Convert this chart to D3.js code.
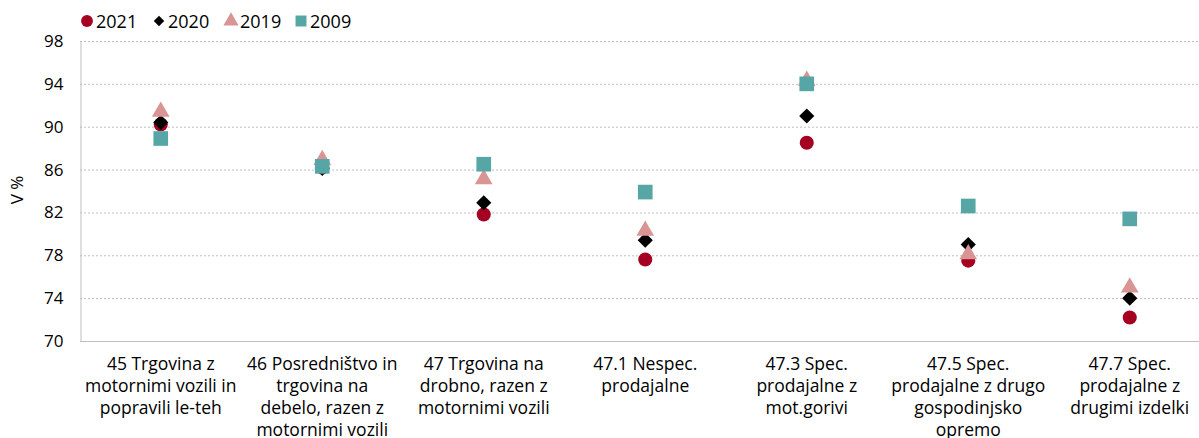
<!DOCTYPE html>
<html>
<head>
<meta charset="utf-8">
<script src="https://d3js.org/d3.v7.min.js"></script>
<style>
  body { margin: 0; background: #fff; }
  svg text { font-family: "Open Sans", sans-serif; fill: #000; }
  .grid line { stroke: #bfbfbf; stroke-dasharray: 2,2; }
  .axis path, .axis line { stroke: #bfbfbf; }
</style>
</head>
<body>
<div id="chart"></div>
<script>
// categories, one entry per label line
var categories = [
  ["45 Trgovina z", "motornimi vozili in", "popravili le-teh"],
  ["46 Posredništvo in", "trgovina na", "debelo, razen z", "motornimi vozili"],
  ["47 Trgovina na", "drobno, razen z", "motornimi vozili"],
  ["47.1 Nespec.", "prodajalne"],
  ["47.3 Spec.", "prodajalne z", "mot.gorivi"],
  ["47.5 Spec.", "prodajalne z drugo", "gospodinjsko", "opremo"],
  ["47.7 Spec.", "prodajalne z", "drugimi izdelki"]
];
var v2021 = [90.2, 86.2, 81.8, 77.6, 88.5, 77.5, 72.2];
var v2020 = [90.4, 86.1, 82.9, 79.4, 91.0, 79.0, 74.0];
var v2019 = [91.4, 86.9, 85.1, 80.3, 94.3, 78.1, 75.0];
var v2009 = [88.9, 86.3, 86.5, 83.9, 94.0, 82.6, 81.4];
var yTicks = [70, 74, 78, 82, 86, 90, 94, 98];

var series = [
  {name: "2021", values: v2021, shape: d3.symbolCircle, size: 155, color: "#a50021"},
  {name: "2020", values: v2020, shape: d3.symbolSquare, size: 115, rot: 45, color: "#000000"},
  {name: "2019", values: v2019, shape: d3.symbolTriangle, size: 135, color: "#d99594"},
  {name: "2009", values: v2009, shape: d3.symbolSquare, size: 215, color: "#56a6a6"}
];

var width = 1199, height = 438;
var margin = {top: 41, left: 80, bottom: 97};
var svg = d3.select("#chart").append("svg")
    .attr("width", width)
    .attr("height", height);

var x = d3.scaleBand()
    .domain(d3.range(categories.length))
    .range([margin.left, margin.left + 7 * 161.5]);
var y = d3.scaleLinear()
    .domain([70, 98])
    .range([height - margin.bottom, margin.top]);

// gridlines
svg.append("g")
    .attr("class", "grid")
    .selectAll("line")
    .data(yTicks.slice(1))
    .enter().append("line")
    .attr("x1", margin.left)
    .attr("x2", width)
    .attr("y1", function(d) { return y(d) + 0.5; })
    .attr("y2", function(d) { return y(d) + 0.5; });

// y axis
var yAxis = svg.append("g")
    .attr("class", "axis")
    .attr("transform", "translate(" + (margin.left + 0.5) + ",0)")
    .call(d3.axisLeft(y).tickValues(yTicks).tickSize(0).tickPadding(17));
yAxis.selectAll("text").style("font-size", "17px");

// x axis line
svg.append("g")
    .attr("class", "axis")
    .attr("transform", "translate(0," + (y(70) + 0.5) + ")")
    .call(d3.axisBottom(x).tickSize(0).tickFormat(""))
    .select("path").attr("d", "M" + margin.left + ",0H" + width);

// category labels
svg.append("g").selectAll("text")
    .data(categories)
    .enter().append("text")
    .attr("text-anchor", "middle")
    .style("font-size", "17.5px")
    .each(function(lines, i) {
      d3.select(this).selectAll("tspan")
        .data(lines)
        .enter().append("tspan")
        .attr("x", x(i) + x.bandwidth() / 2)
        .attr("y", function(d, j) { return 370 + j * 22; })
        .text(function(d) { return d; });
    });

// y title
svg.append("text")
    .attr("transform", "translate(23,190) rotate(-90)")
    .attr("text-anchor", "middle")
    .style("font-size", "17px")
    .text("V %");

// markers
series.forEach(function(s) {
  svg.append("g").selectAll("path")
    .data(s.values)
    .enter().append("path")
    .attr("d", d3.symbol().type(s.shape).size(s.size))
    .attr("fill", s.color)
    .attr("transform", function(d, i) {
      return "translate(" + (x(i) + x.bandwidth() / 2) + "," + y(d) + ")" +
        (s.rot ? " rotate(" + s.rot + ")" : "");
    });
});

// legend
var lx = [87, 159, 231, 301];
var legend = svg.append("g").selectAll("g")
    .data(series)
    .enter().append("g")
    .attr("transform", function(d, i) { return "translate(" + lx[i] + ",21)"; });
legend.append("path")
    .attr("d", function(d, i) {
      return d3.symbol().type(d.shape).size([110, 55, 100, 120][i])();
    })
    .attr("transform", function(d) { return d.rot ? "rotate(" + d.rot + ")" : null; })
    .attr("fill", function(d) { return d.color; });
legend.append("text")
    .attr("x", 9)
    .attr("y", 6.5)
    .style("font-size", "18px")
    .text(function(d) { return d.name; });
</script>
</body>
</html>
